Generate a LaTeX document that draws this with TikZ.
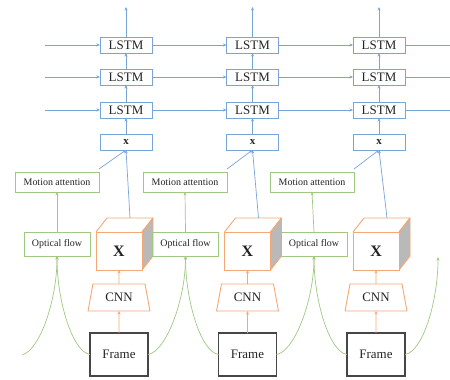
\documentclass[tikz,border=0pt]{standalone}
\usepackage{fontspec}
\setmainfont{Liberation Serif}
\usetikzlibrary{arrows.meta,shapes.geometric,calc}
\definecolor{lblue}{RGB}{120,165,215}
\definecolor{lgreen}{RGB}{160,200,130}
\definecolor{lorange}{RGB}{244,168,115}
\definecolor{dgray}{RGB}{70,70,70}
\definecolor{sidegray}{RGB}{185,185,185}
\definecolor{txt}{RGB}{35,35,35}
\tikzset{
  tip/.style={-{Stealth[length=3.5bp,width=3bp]}},
  lstm/.style={draw=lblue, line width=0.8bp, minimum width=52bp, minimum height=16bp, inner sep=0, outer sep=0, text=txt, font=\fontsize{13}{14}\selectfont},
  xbox/.style={lstm, font=\fontsize{11}{12}\selectfont\bfseries},
  gbox/.style={draw=lgreen, line width=0.8bp, inner sep=0, outer sep=0, text=txt, font=\fontsize{10}{11}\selectfont},
  mabox/.style={gbox, minimum width=84bp, minimum height=20bp},
  ofbox/.style={gbox, minimum width=66bp, minimum height=24bp},
  cubefront/.style={draw=lorange, line width=0.9bp, fill=white, minimum width=46bp, minimum height=38bp, inner sep=0, outer sep=0, text=txt, font=\fontsize{16}{17}\selectfont\bfseries},
  cubeedge/.style={draw=lorange, line width=0.9bp, line join=round},
  cnnbox/.style={trapezium, trapezium stretches=true, trapezium angle=73.5, draw=lorange, line width=0.9bp, minimum width=62bp, minimum height=27bp, inner sep=0, outer sep=0, text=txt, font=\fontsize{13}{14}\selectfont},
  framebox/.style={draw=dgray, line width=1.3bp, minimum width=58bp, minimum height=43bp, inner sep=0, outer sep=0, text=txt, font=\fontsize{13}{14}\selectfont},
  bline/.style={draw=lblue, line width=0.7bp, tip},
  gline/.style={draw=lgreen, line width=0.7bp, tip},
  oline/.style={draw=lorange, line width=0.8bp, tip},
}
\begin{document}
\begin{tikzpicture}[x=1bp,y=-1bp]
\useasboundingbox (0,0) rectangle (450,379);
\foreach \i/\L/\C/\O/\M in {1/126/119/57/57, 2/252.5/247.5/185.5/185, 3/379/376/314/312}{
  \node[lstm] (la\i) at (\L,110) {LSTM};
  \node[lstm] (lb\i) at (\L,77) {LSTM};
  \node[lstm] (lc\i) at (\L,45) {LSTM};
  \node[xbox] (x\i) at (\L,142) {x};
  \coordinate (top\i) at (\L,7);
  \node[mabox] (ma\i) at (\M,182) {Motion attention};
  \node[ofbox] (of\i) at (\O,244) {Optical flow};
  % cube
  \node[cubefront] (cube\i) at (\C,251) {};
  \fill[sidegray] (cube\i.north east) -- ++(11,-14) -- ++(0,38) -- (cube\i.south east) -- cycle;
  \draw[cubeedge] (cube\i.north east) -- ++(11,-14) -- ++(0,38) -- (cube\i.south east);
  \draw[cubeedge] (cube\i.north west) -- ++(11,-14) -- ++(46,0) -- (cube\i.north east);
  \node[cubefront, draw=lorange] (cf\i) at (cube\i) {X};
  \coordinate (ct\i) at ($(cube\i.north)+(11,-14)$);
  \node[cnnbox] (cnn\i) at (\C,297.5) {CNN};
  \node[framebox] (fr\i) at (\C,354.5) {Frame};
  % arrows
  \draw[oline] (fr\i.north) -- (cnn\i.south);
  \draw[oline] (cnn\i.north) -- (cf\i.south);
  \draw[bline] (ct\i) -- (x\i.south);
  \draw[bline] ([yshift=3bp]ma\i.north east) -- (x\i.south);
  \draw[gline] (of\i.north) -- (ma\i.south);
  \draw[bline] (x\i.north) -- (la\i.south);
  \draw[bline] (la\i.north) -- (lb\i.south);
  \draw[bline] (lb\i.north) -- (lc\i.south);
  \draw[bline] (lc\i.north) -- (top\i);
}
% horizontal recurrent connections
\foreach \r/\y in {a/110, b/77, c/45}{
  \coordinate (in\r) at (45,\y);
  \coordinate (out\r) at (450,\y);
  \draw[bline] (in\r) -- (l\r1.west);
  \draw[bline] (l\r1.east) -- (l\r2.west);
  \draw[bline] (l\r2.east) -- (l\r3.west);
  \draw[draw=lblue, line width=0.7bp] (l\r3.east) -- (out\r);
}
% optical flow inputs
\coordinate (s0) at (22,355);
\coordinate (e4) at (438,257);
\draw[gline] (s0) .. controls +(18,-5) and +(0,44) .. (of1.south);
\draw[gline] (fr1.west) .. controls +(-18,-3) and +(0,44) .. (of1.south);
\draw[gline] (fr1.east) .. controls +(18,-3) and +(0,44) .. (of2.south);
\draw[gline] (fr2.west) .. controls +(-18,-3) and +(0,44) .. (of2.south);
\draw[gline] (fr2.east) .. controls +(18,-3) and +(0,44) .. (of3.south);
\draw[gline] (fr3.west) .. controls +(-18,-3) and +(0,44) .. (of3.south);
\draw[gline] (fr3.east) .. controls +(18,-3) and +(0,44) .. (e4);
\end{tikzpicture}
\end{document}
